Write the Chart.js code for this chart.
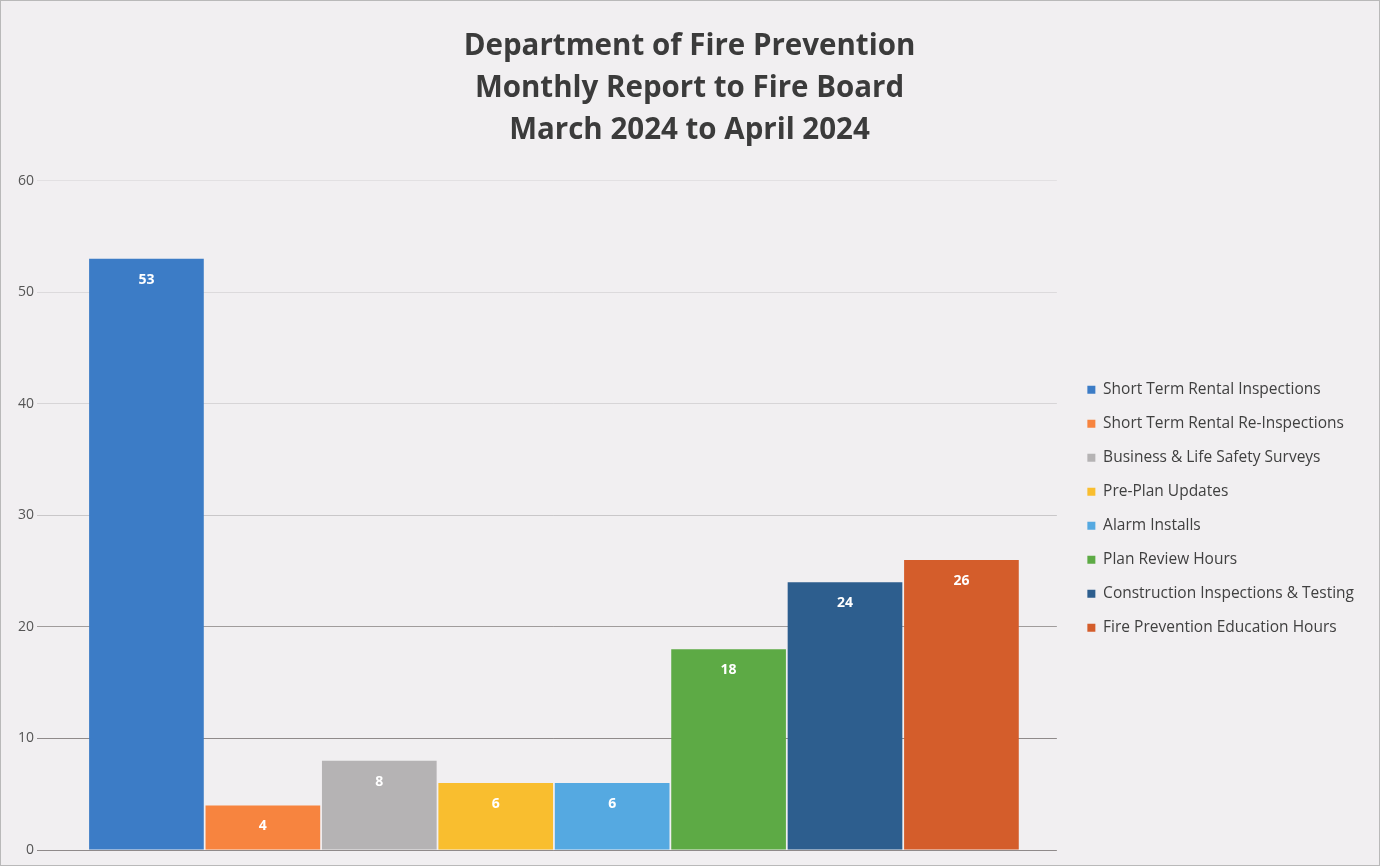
<!DOCTYPE html>
<html>
<head>
<meta charset="utf-8">
<script src="https://cdn.jsdelivr.net/npm/chart.js@4"></script>
<style>
  html, body { margin: 0; padding: 0; background: #f1eff1; }
  #wrap { width: 1378px; height: 864px; border: 1px solid #b9b9b9; position: relative; }
</style>
</head>
<body>
<div id="wrap"><canvas id="grafica"></canvas></div>
<script>
const series = [
  "Short Term Rental Inspections",
  "Short Term Rental Re-Inspections",
  "Business & Life Safety Surveys",
  "Pre-Plan Updates",
  "Alarm Installs",
  "Plan Review Hours",
  "Construction Inspections & Testing",
  "Fire Prevention Education Hours"
];
const values = [53, 4, 8, 6, 6, 18, 24, 26];
const colors = [
  "#3c7cc6", // azul
  "#f7843f", // naranja
  "#b5b3b4", // gris
  "#f9be2f", // amarillo
  "#55a9e1", // celeste
  "#5daa45", // verde
  "#2d5e8e", // azul oscuro
  "#d45d2b"  // naranja oscuro
];
const titleLines = [
  "Department of Fire Prevention",
  "Monthly Report to Fire Board",
  "March 2024 to April 2024"
];

// etiquetas blancas dentro de cada barra
const barLabels = {
  id: "barLabels",
  afterDatasetsDraw(chart) {
    const ctx = chart.ctx;
    ctx.save();
    ctx.fillStyle = "#ffffff";
    ctx.font = "bold 14px 'Open Sans'";
    ctx.textAlign = "center";
    ctx.textBaseline = "middle";
    chart.data.datasets.forEach((ds, i) => {
      const bar = chart.getDatasetMeta(i).data[0];
      ctx.fillText(ds.data[0], bar.x, bar.y + 21);
    });
    ctx.restore();
  }
};

const ctx = document.getElementById("grafica");

new Chart(ctx, {
  type: "bar",
  data: {
    labels: [""],
    datasets: series.map((name, i) => ({
      label: name,
      data: [values[i]],
      backgroundColor: colors[i],
      categoryPercentage: 0.926,
      barPercentage: 0.985
    }))
  },
  options: {
    responsive: true,
    maintainAspectRatio: false,
    animation: false,
    layout: { padding: { left: 14, right: 15, bottom: 15, top: 0 } },
    scales: {
      x: { display: false },
      y: {
        min: 0,
        max: 60,
        ticks: { stepSize: 10, color: "#555", font: { family: "Open Sans", size: 14 }, padding: 3 },
        border: { display: false },
        grid: {
          drawTicks: true,
          tickLength: 14,
          color: ["#8f8a8a", "#8f8a8a", "#a09c9c", "#c9c7c9", "#d7d5d7", "#dcdadc", "#e2e0e2"]
        }
      },
      // hueco entre el área del gráfico y la leyenda
      gap: {
        position: "right",
        display: true,
        grid: { display: false },
        ticks: { display: false },
        border: { display: false },
        afterFit(scale) { scale.width = 12; }
      }
    },
    plugins: {
      title: {
        display: true,
        text: titleLines,
        color: "#3b3b3b",
        font: { family: "Open Sans", size: 29.5, weight: "bold", lineHeight: 1.42 },
        padding: { top: 25, bottom: 29 }
      },
      legend: {
        position: "right",
        maxWidth: 400,
        title: {
          display: true,
          text: " ",
          padding: { top: 152, bottom: 0 }
        },
        labels: {
          boxWidth: 8,
          boxHeight: 8,
          padding: 18.5,
          color: "#404040",
          font: { family: "Open Sans", size: 15.5 }
        }
      },
      tooltip: { enabled: false }
    }
  },
  plugins: [barLabels]
});
</script>
</body>
</html>
